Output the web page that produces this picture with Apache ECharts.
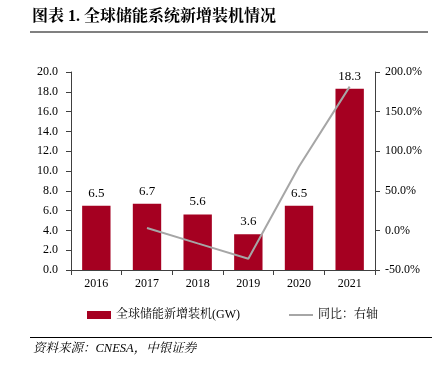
<!DOCTYPE html>
<html><head><meta charset="utf-8">
<script src="https://cdn.jsdelivr.net/npm/echarts@6/dist/echarts.min.js"></script>
<style>html,body{margin:0;padding:0;background:#fff}#c{width:432px;height:368px}</style>
</head><body><div id="c"></div>
<script>
const years = ['2016','2017','2018','2019','2020','2021'];
const capacityGW = [6.5, 6.7, 5.6, 3.6, 6.5, 18.3];
const yoyPct = [null, 3.1, -16.4, -35.7, 80.6, 181.5];
const leftTicks = {min: 0, max: 20, interval: 2};
const rightTicks = {min: -50, max: 200, interval: 50};

const serif = '"Liberation Serif", "Noto Serif CJK SC", "Noto Sans CJK SC", serif';
const chart = echarts.init(document.getElementById('c'), null, {renderer: 'canvas'});
chart.setOption({
  animation: false,
  backgroundColor: '#fff',
  textStyle: {fontFamily: serif},
  grid: {left: 71, right: 57, top: 72, bottom: 98},
  legend: {
    left: 82, top: 304, itemWidth: 24, itemHeight: 8, itemGap: 49,
    textStyle: {fontFamily: serif, fontSize: 12, color: '#000'},
    data: [
      {name: '全球储能新增装机(GW)', icon: 'rect'},
      {name: '同比：右轴', icon: 'path://M0,0 L24,0 L24,2 L0,2 Z', itemStyle: {color: '#A6A6A6'}}
    ]
  },
  xAxis: {
    type: 'category', data: years, boundaryGap: true,
    axisLine: {lineStyle: {color: '#404040'}},
    axisTick: {show: true, alignWithLabel: false, lineStyle: {color: '#404040'}},
    axisLabel: {color: '#000', fontSize: 12, fontFamily: serif, margin: 8}
  },
  yAxis: [{
    type: 'value', min: leftTicks.min, max: leftTicks.max, interval: leftTicks.interval,
    axisLine: {show: true, lineStyle: {color: '#404040'}},
    axisTick: {show: true, lineStyle: {color: '#404040'}},
    splitLine: {show: false},
    axisLabel: {color: '#000', fontSize: 12, fontFamily: serif, margin: 13, formatter: v => v.toFixed(1)}
  }, {
    type: 'value', min: rightTicks.min, max: rightTicks.max, interval: rightTicks.interval,
    axisLine: {show: true, lineStyle: {color: '#404040'}},
    axisTick: {show: true, lineStyle: {color: '#404040'}},
    splitLine: {show: false},
    axisLabel: {color: '#000', fontSize: 12, fontFamily: serif, margin: 10, formatter: v => v.toFixed(1) + '%'}
  }],
  series: [{
    name: '全球储能新增装机(GW)', type: 'bar', data: capacityGW, barWidth: '56%',
    itemStyle: {color: '#A50021'},
    label: {show: true, position: 'top', color: '#000', fontSize: 13, fontFamily: serif,
      formatter: p => p.value.toFixed(1), distance: 6}
  }, {
    name: '同比：右轴', type: 'line', yAxisIndex: 1, data: yoyPct,
    symbol: 'none', lineStyle: {color: '#A6A6A6', width: 2}, itemStyle: {color: '#A6A6A6'}
  }],
  graphic: [
    {type: 'text', left: 32, top: 9, style: {text: '图表 1. 全球储能系统新增装机情况', font: 'bold 16px ' + serif, fill: '#000'}},
    {type: 'rect', shape: {x: 30, y: 31, width: 398, height: 2}, style: {fill: '#808080'}},
    {type: 'rect', shape: {x: 30, y: 337, width: 402, height: 1}, style: {fill: '#000'}},
    {type: 'text', left: 33, top: 342, style: {text: '资料来源：CNESA，中银证券', font: 'italic 12.5px ' + serif, fill: '#000'}}
  ]
});
</script></body></html>
